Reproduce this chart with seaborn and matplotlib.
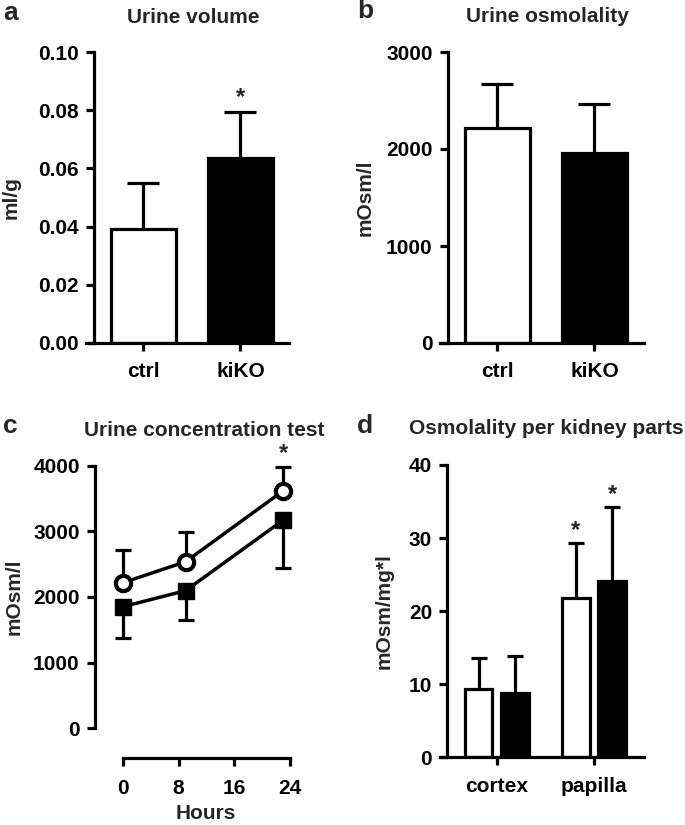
import numpy as np
import pandas as pd
import matplotlib
matplotlib.use("Agg")
import matplotlib.pyplot as plt
import seaborn as sns
from matplotlib.ticker import FormatStrFormatter

# ---- data ----
groups = ["ctrl", "kiKO"]
vol_mean = [0.0392, 0.0635]
vol_sem = [0.0158, 0.0158]

osm_mean = [2220, 1962]
osm_sem = [447, 502]

hours = [0, 9, 23]
conc_ctrl = [2217, 2537, 3618]
conc_ctrl_sem = [498, 447, 365]
conc_ko = [1852, 2096, 3172]
conc_ko_sem = [472, 447, 726]

parts = ["cortex", "papilla"]
part_ctrl = [9.39, 21.76]
part_ctrl_sem = [4.2, 7.5]
part_ko = [8.84, 24.1]
part_ko_sem = [4.96, 10.1]

sns.set_theme(style="ticks")
plt.rcParams["font.family"] = ["Liberation Sans", "DejaVu Sans"]
plt.rcParams["font.weight"] = "bold"
plt.rcParams["axes.labelweight"] = "bold"
plt.rcParams["axes.titleweight"] = "bold"

LW = 2.3
FS = 15
W, H = 685, 825

fig = plt.figure(figsize=(W / 100, H / 100), dpi=100)


def add_axes(x0, x1, ytop, ybot):
    return fig.add_axes([x0 / W, 1 - ybot / H, (x1 - x0) / W, (ybot - ytop) / H])


def style(ax, left_frac=None, xpad=8):
    sns.despine(ax=ax)
    for s in ["left", "bottom"]:
        ax.spines[s].set_linewidth(LW)
        ax.spines[s].set_color("black")
    if left_frac is not None:
        ax.spines["left"].set_position(("axes", left_frac))
    ax.tick_params(axis="both", direction="out", length=6, width=LW, color="black",
                   labelsize=FS, labelcolor="black")
    ax.tick_params(axis="y", pad=5)
    ax.tick_params(axis="x", pad=xpad)
    ax.set_facecolor("none")


def upper_err(ax, x, y, e, cap, z=1):
    _, caps, _ = ax.errorbar(x, y, yerr=[np.zeros(len(e)), e], fmt="none", ecolor="black",
                             elinewidth=LW, capsize=cap, capthick=LW, zorder=z, clip_on=False)
    caps[0].set_visible(False)


def lower_err(ax, x, y, e, cap, z=1):
    _, caps, _ = ax.errorbar(x, y, yerr=[e, np.zeros(len(e))], fmt="none", ecolor="black",
                             elinewidth=LW, capsize=cap, capthick=LW, zorder=z, clip_on=False)
    caps[1].set_visible(False)


def bar_centers(ax):
    return [p.get_x() + p.get_width() / 2 for p in ax.patches]


# ---- a: urine volume ----
ax = add_axes(86, 289, 52, 343)
sns.barplot(x=groups, y=vol_mean, hue=groups, palette=["white", "black"], edgecolor="black",
            linewidth=LW, width=0.67, legend=False, ax=ax, zorder=2)
xc = bar_centers(ax)
upper_err(ax, xc, vol_mean, vol_sem, 11.5)
ax.annotate("*", xy=(xc[1], vol_mean[1] + vol_sem[1]), xytext=(0, 2), textcoords="offset points",
            ha="center", va="bottom", fontsize=17)
ax.set_ylim(0, 0.1)
ax.set_yticks(np.arange(0, 0.101, 0.02))
ax.yaxis.set_major_formatter(FormatStrFormatter("%.2f"))
ax.set_xlim(-0.59, 1.5)
style(ax, 0.039)
ax.set_ylabel("ml/g", fontsize=FS)
ax.yaxis.set_label_coords(-0.32, 0.5)

# ---- b: urine osmolality ----
ax = add_axes(440, 644, 52, 343)
sns.barplot(x=groups, y=osm_mean, hue=groups, palette=["white", "black"], edgecolor="black",
            linewidth=LW, width=0.67, legend=False, ax=ax, zorder=2)
xc = bar_centers(ax)
upper_err(ax, xc, osm_mean, osm_sem, 11.5)
ax.set_ylim(0, 3000)
ax.set_yticks([0, 1000, 2000, 3000])
ax.set_xlim(-0.59, 1.51)
style(ax, 0.039)
ax.set_ylabel("mOsm/l", fontsize=FS)
ax.yaxis.set_label_coords(-0.32, 0.5)

# ---- c: urine concentration test ----
ax = add_axes(95, 300, 465.7, 728.3)
upper_err(ax, hours, conc_ctrl, conc_ctrl_sem, 6)
lower_err(ax, hours, conc_ko, conc_ko_sem, 6)
sns.lineplot(x=hours, y=conc_ko, color="black", lw=2.5, marker="s", markersize=11,
             markerfacecolor="black", markeredgecolor="black", markeredgewidth=1,
             ax=ax, zorder=3, clip_on=False)
sns.lineplot(x=hours, y=conc_ctrl, color="black", lw=2.5, marker="o", markersize=11,
             markerfacecolor="white", markeredgecolor="black", markeredgewidth=3,
             ax=ax, zorder=4, clip_on=False)
ax.annotate("*", xy=(hours[2], conc_ctrl[2] + conc_ctrl_sem[2]), xytext=(0, 1),
            textcoords="offset points", ha="center", va="bottom", fontsize=17)
ax.set_ylim(0, 4000)
ax.set_yticks([0, 1000, 2000, 3000, 4000])
ax.set_xlim(-3.97, 25.4)
ax.set_xticks([0, 8, 16, 24])
style(ax, xpad=9)
ax.spines["bottom"].set_position(("outward", 21.5))
ax.spines["bottom"].set_bounds(0, 24)
ax.set_ylabel("mOsm/l", fontsize=FS)
ax.yaxis.set_label_coords(-0.35, 0.5)
ax.set_xlabel("Hours", fontsize=FS)
ax.xaxis.set_label_coords(0.54, -0.29)

# ---- d: osmolality per kidney parts ----
ax = add_axes(440, 644, 465, 757.3)
df_d = pd.DataFrame({
    "part": parts + parts,
    "group": ["ctrl"] * len(parts) + ["kiKO"] * len(parts),
    "value": part_ctrl + part_ko,
})
sns.barplot(data=df_d, x="part", y="value", hue="group", palette=["white", "black"],
            edgecolor="black", linewidth=LW, width=0.75, gap=0.24, legend=False, ax=ax, zorder=2)
xc = bar_centers(ax)
vals = part_ctrl + part_ko
errs = part_ctrl_sem + part_ko_sem
upper_err(ax, xc, vals, errs, 6)
for i in [1, 3]:
    ax.annotate("*", xy=(xc[i], vals[i] + errs[i]), xytext=(0, 1), textcoords="offset points",
                ha="center", va="bottom", fontsize=17)
ax.set_ylim(0, 40)
ax.set_yticks([0, 10, 20, 30, 40])
ax.set_xlim(-0.585, 1.515)
style(ax, 0.036)
ax.set_xlabel("")
ax.set_ylabel("mOsm/mg*l", fontsize=FS)
ax.yaxis.set_label_coords(-0.225, 0.5)

# ---- titles and panel letters ----
titles = [("Urine volume", 193, 23), ("Urine osmolality", 547, 22),
          ("Urine concentration test", 204, 436.5), ("Osmolality per kidney parts", 546, 434)]
for t, x, y in titles:
    fig.text(x / W, 1 - y / H, t, ha="center", va="baseline", fontsize=FS, fontweight="bold")
letters = [("a", 3, 20), ("b", 357, 18.5), ("c", 3, 433), ("d", 357, 433)]
for t, x, y in letters:
    fig.text(x / W, 1 - y / H, t, ha="left", va="baseline", fontsize=19, fontweight="bold")

fig.savefig("out.png", dpi=100, facecolor="white")
